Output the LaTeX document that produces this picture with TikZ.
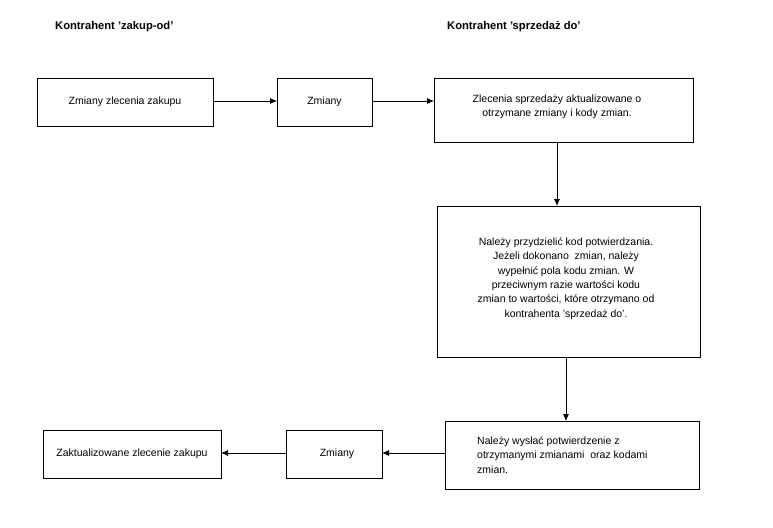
\documentclass[tikz,border=0pt]{standalone}
\usepackage{fontspec}
\setmainfont{Liberation Sans}
\usetikzlibrary{arrows.meta}
\begin{document}
\begin{tikzpicture}[x=1pt,y=-1pt,
  txt/.style={font=\fontsize{10.5}{14.3}\selectfont,inner sep=0pt},
  hdr/.style={font=\fontsize{11.2}{12}\selectfont\bfseries,inner sep=0pt,anchor=west},
  frame/.style={line width=0.8pt},
  conn/.style={line width=0.8pt,-{Latex[length=7pt,width=6pt]}}]
\useasboundingbox (0,0) rectangle (773,527);
\node[hdr] (h1) at (55,27) {Kontrahent 'zakup-od'};
\node[hdr] (h2) at (447,27) {Kontrahent 'sprzedaż do'};
% top row
\draw[frame] (37,78) rectangle (213,126);
\node[txt] (b1) at (125,102) {Zmiany zlecenia zakupu};
\coordinate (b1r) at (213,101);
\draw[frame] (277,78) rectangle (372,126);
\coordinate (b2l) at (277,101);
\coordinate (b2r) at (372,101);
\node[txt] (b2) at (324.5,102) {Zmiany};
\draw[frame] (434,78) rectangle (693,142);
\coordinate (b3l) at (434,101);
\coordinate (b3b) at (557,142);
\node[txt,align=center] (b3) at (557,106.5) {Zlecenia sprzedaży aktualizowane o\\otrzymane zmiany i kody zmian.};
% middle
\draw[frame] (437,206) rectangle (700,357);
\coordinate (b4t) at (557,206);
\coordinate (b4b) at (566,357);
\node[txt,align=center] (b4) at (566,278.5) {Należy przydzielić kod potwierdzania.\\Jeżeli dokonano\ \ zmian,\ należy\\wypełnić pola kodu zmian. W\\przeciwnym razie wartości kodu\\zmian to wartości, które otrzymano od\\kontrahenta 'sprzedaż do'.};
% bottom row
\draw[frame] (445,421) rectangle (699,489);
\coordinate (b5t) at (566,421);
\coordinate (b5l) at (445,453);
\node[txt,align=left,anchor=west] (b5) at (477,455) {Należy\ wysłać potwierdzenie z\\otrzymanymi zmianami\ \ oraz kodami\\zmian.};
\draw[frame] (286,430) rectangle (382,478);
\coordinate (b6r) at (382,453);
\coordinate (b6l) at (286,453);
\node[txt] (b6) at (337,454) {Zmiany};
\draw[frame] (43,430) rectangle (221,478);
\coordinate (b7r) at (221,453);
\node[txt] (b7) at (132,454) {Zaktualizowane zlecenie zakupu};
% connectors
\draw[conn] (b1r) -- (b2l);
\draw[conn] (b2r) -- (b3l);
\draw[conn] (b3b) -- (b4t);
\draw[conn] (b4b) -- (b5t);
\draw[conn] (b5l) -- (b6r);
\draw[conn] (b6l) -- (b7r);
\end{tikzpicture}
\end{document}
